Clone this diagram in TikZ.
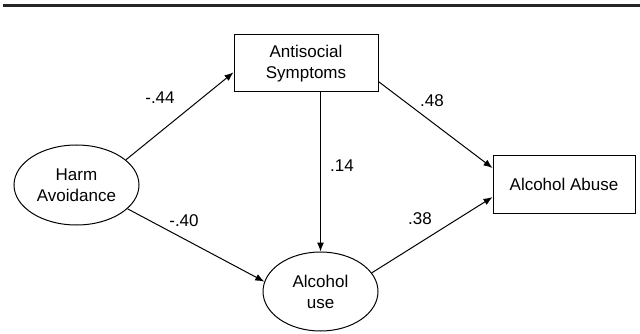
\documentclass[tikz,border=0pt]{standalone}
\usepackage{fontspec}
\setmainfont{Liberation Sans}
\usepackage{tikz}
\usetikzlibrary{
  arrows.meta,
  positioning,
  shapes.geometric
}

\begin{document}
\begin{tikzpicture}[
    x=1pt, y=-1pt,
    box/.style={draw, line width=1pt, minimum width=144pt, minimum height=57pt, inner sep=0pt,
      font=\fontsize{17}{21}\selectfont, align=center},
    lat/.style={ellipse, draw, line width=1pt, inner sep=0pt,
      font=\fontsize{17}{21}\selectfont, align=center},
    ed/.style={-{Latex[length=9pt,width=7pt]}, line width=1pt},
    coef/.style={font=\fontsize{17}{20}\selectfont, inner sep=1pt}
  ]
    \useasboundingbox (0,0) rectangle (640,334);
    \draw[line width=3pt, black!85] (3,6) -- (640,6);
    \node[box] (anti) at (306,63.5) {Antisocial\\Symptoms};
    \node[lat, minimum width=125pt, minimum height=80pt] (harm) at (76.5,185) {Harm\\Avoidance};
    \node[lat, minimum width=115pt, minimum height=79pt] (use) at (320.5,291.5) {Alcohol\\use};
    \node[box, minimum width=142pt] (abuse) at (564,184.5) {Alcohol Abuse};
    \draw[ed] (harm.27) -- (anti.187);
    \draw[ed] (harm.-25) -- (use.170.6);
    \draw[ed] (anti.south -| use.north) -- (use.north);
    \draw[ed] (anti.-14.4) -- (abuse.167.1);
    \draw[ed] (use.20.4) -- (abuse.190.6);
    \node[coef] (c1) at (160,98) {-.44};
    \node[coef] (c2) at (184,221) {-.40};
    \node[coef] (c3) at (342,166) {.14};
    \node[coef] (c4) at (432,101) {.48};
    \node[coef] (c5) at (420,219) {.38};
  \end{tikzpicture}
\end{document}
